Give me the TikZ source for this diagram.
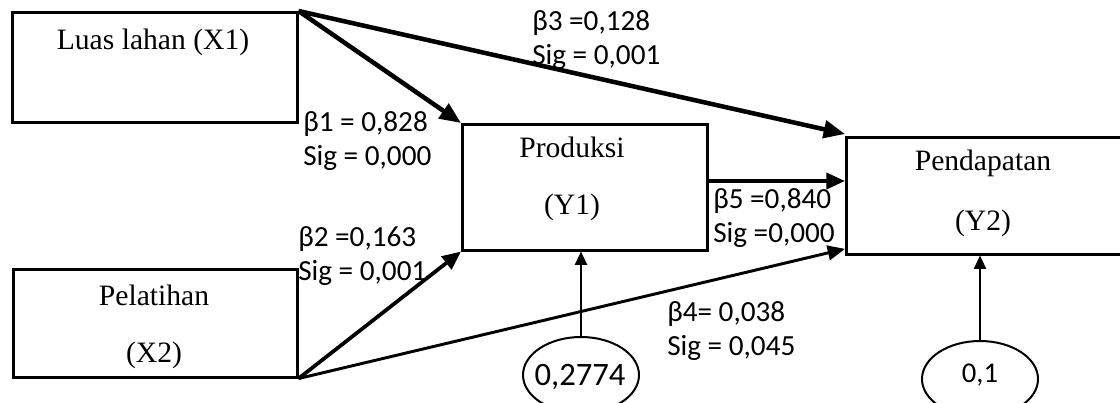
\documentclass[tikz,border=0pt]{standalone}
\usepackage{fontspec}
\setmainfont{Liberation Serif}
\newfontfamily\calib{Carlito}
\usetikzlibrary{arrows.meta,shapes.geometric}
\tikzset{
  box/.style={draw, line width=1.9pt, rectangle, anchor=north west, inner sep=0pt},
  oval/.style={draw, line width=1.5pt, ellipse, inner sep=0pt},
  boxtext/.style={inner sep=0pt, font=\fontsize{22.2pt}{26pt}\selectfont},
  coef/.style={inner sep=0pt, anchor=west, align=left, font=\calib\fontsize{21.9pt}{25pt}\selectfont},
  thick1/.style={line width=3.4pt, -{Triangle[length=16pt,width=13pt]}},
  thick2/.style={line width=2.8pt, -{Triangle[length=14pt,width=12pt]}},
  thick3/.style={line width=2.2pt, -{Triangle[length=13pt,width=11pt]}},
  thin/.style={line width=1.6pt, -{Triangle[length=10pt,width=9pt]}},
}
\begin{document}
\begin{tikzpicture}[x=0.75pt,y=-0.75pt]
\useasboundingbox (0,0) rectangle (1120,403);
\clip (0,0) rectangle (1120,403);
% boxes
\node[box, minimum width=213.75pt, minimum height=82.5pt] (x1) at (11,11) {};
\node[box, minimum width=213pt, minimum height=81pt] (x2) at (12,268) {};
\node[box, minimum width=183.75pt, minimum height=94.5pt] (y1) at (461,123) {};
\node[box, minimum width=213.75pt, minimum height=87.75pt] (y2) at (845,136) {};
% ellipses
\node[oval, minimum width=87pt, minimum height=57pt] (e1) at (581,375) {};
\node[oval, minimum width=87pt, minimum height=57pt] (e2) at (980,379) {};
\node[inner sep=0pt, font=\calib\fontsize{24.5pt}{28pt}\selectfont] (e1t) at (580,377) {0,2774};
\node[inner sep=0pt, font=\calib\fontsize{21.5pt}{24pt}\selectfont] (e2t) at (980,375) {0,1};
% box texts
\node[boxtext] (tx1) at (153,42) {Luas lahan (X1)};
\node[boxtext] (tx2a) at (154,295) {Pelatihan};
\node[boxtext] (tx2b) at (154,355) {(X2)};
\node[boxtext] (ty1a) at (572,147) {Produksi};
\node[boxtext] (ty1b) at (572,207) {(Y1)};
\node[boxtext] (ty2a) at (983,163) {Pendapatan};
\node[boxtext] (ty2b) at (983,223) {(Y2)};
% coordinates on box edges
\coordinate (y1r) at (y1.east |- 0,181);
\coordinate (y2l) at (y2.west |- 0,181);
\coordinate (y2tl) at ([yshift=1.5pt]y2.north west);
\coordinate (y2bl) at ([yshift=5pt]y2.south west);
\coordinate (y2b) at (y2.south west -| e2.north);
\coordinate (y1b) at (y1.south west -| e1.north);
% arrows
\draw[thick1] (x1.north east) -- (y1.north west);
\draw[thick1] (x1.north east) -- (y2tl);
\draw[thick2] (x2.south east) -- (y1.south west);
\draw[thick3] (x2.south east) -- (y2bl);
\draw[thick2] (y1r) -- (y2l);
\draw[thin] (e1.north) -- (y1b);
\draw[thin] (e2.north) -- (y2b);
% coefficients
\node[coef] (b3) at (532,40) {β3 =0,128\\Sig = 0,001};
\node[coef] (b1) at (303,141) {β1 = 0,828\\Sig = 0,000};
\node[coef] (b2) at (298,256) {β2 =0,163\\Sig = 0,001};
\node[coef] (b5) at (713,218) {β5 =0,840\\Sig =0,000};
\node[coef] (b4) at (667,331) {β4= 0,038\\Sig = 0,045};
\end{tikzpicture}
\end{document}
